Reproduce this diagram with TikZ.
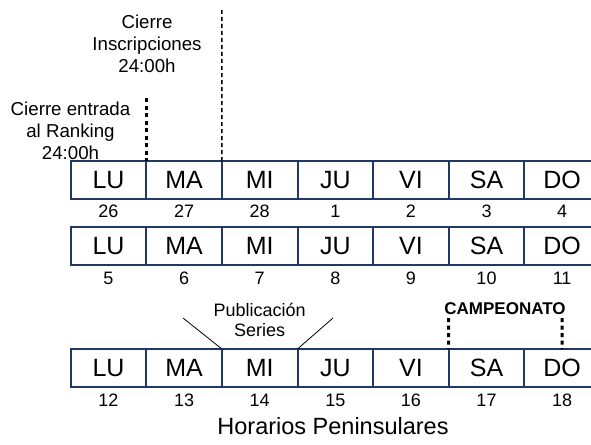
\documentclass[tikz,border=0pt]{standalone}
\usepackage{fontspec}
\setmainfont{Liberation Sans}
\usetikzlibrary{calc}
\definecolor{boxc}{HTML}{1F3864}
\begin{document}
\begin{tikzpicture}[x=1pt,y=-1pt,
  cell/.style={draw=boxc, line width=2pt, minimum width=75.6pt, minimum height=38pt,
    inner sep=0pt, outer sep=0pt, font=\fontsize{25}{25}\selectfont},
  num/.style={inner sep=0pt, font=\fontsize{18}{18}\selectfont},
  note/.style={inner sep=0pt, align=center, anchor=north, font=\fontsize{18.7}{22}\selectfont},
  thindash/.style={line width=1.4pt, dash pattern=on 4pt off 3pt},
  thickdash/.style={line width=3pt, dash pattern=on 4pt off 3.5pt},
  publine/.style={line width=0.8pt}]
\useasboundingbox (0,0) rectangle (591,444);
\clip (0,0) rectangle (591,444);

% annotations
\node[note] (ins) at (147,15) {Cierre\\Inscripciones\\24:00h};
\node[note] (rk) at (70.5,102) {Cierre entrada\\al Ranking\\24:00h};
\node[note, font=\fontsize{18}{20}\selectfont] (pub) at (259.7,303) {Publicación\\Series};
\node[inner sep=0pt, anchor=base, font=\fontsize{17}{17}\selectfont\bfseries] (camp) at (505,314) {CAMPEONATO};

% free ends of connectors
\coordinate (tins) at (221.9,10);
\coordinate (trk) at (146.3,98);
\coordinate (pl) at (183,318);
\coordinate (pr) at (333,318);
\coordinate (csa) at (448.7,318);
\coordinate (cdo) at (562.1,318);

% calendar rows
\foreach \r/\top in {1/161, 2/227, 3/349} {
  \foreach \d [count=\i from 0] in {LU,MA,MI,JU,VI,SA,DO} {
    \node[cell] (c\r-\i) at ({70.7+75.6*(\i+0.5)},{\top+19}) {\d};
  }
}
\foreach \n [count=\i from 0] in {26,27,28,1,2,3,4}
  \node[num] (n1-\i) at ($(c1-\i.south)+(0,12)$) {\n};
\foreach \n [count=\i from 0] in {5,6,7,8,9,10,11}
  \node[num] (n2-\i) at ($(c2-\i.south)+(0,13)$) {\n};
\foreach \n [count=\i from 0] in {12,13,14,15,16,17,18}
  \node[num] (n3-\i) at ($(c3-\i.south)+(0,13)$) {\n};

% connectors
\draw[thindash] (tins) -- (c1-2.north west);
\draw[thickdash] (trk) -- (c1-1.north west);
\draw[publine] (pl) -- (c3-2.north west);
\draw[publine] (pr) -- (c3-2.north east);
\draw[thickdash] (csa) -- (c3-5.north west);
\draw[thickdash] (cdo) -- (c3-6.north);

\node[inner sep=0pt, anchor=base, font=\fontsize{23.5}{23.5}\selectfont] (title) at (333,434) {Horarios Peninsulares};
\end{tikzpicture}
\end{document}
